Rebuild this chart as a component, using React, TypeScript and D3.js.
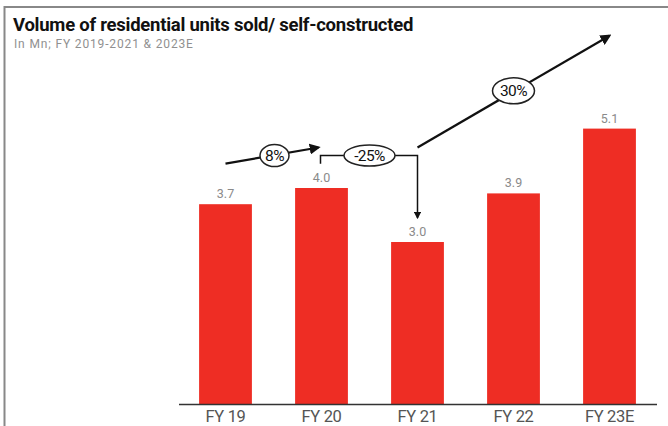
import React from "react";
import * as d3 from "d3";

const categories = ["FY 19", "FY 20", "FY 21", "FY 22", "FY 23E"];
const values = [3.7, 4.0, 3.0, 3.9, 5.1];
const valueLabels = ["3.7", "4.0", "3.0", "3.9", "5.1"];
const growthLabels = ["8%", "-25%", "30%"];

const W = 668;
const H = 426;
const RED = "#ee2d24";

export default function App() {
  const x = d3
    .scaleBand<string>()
    .domain(categories)
    .range([177.5, 657.5])
    .paddingInner(0.45)
    .paddingOuter(0.225);
  const y = d3.scaleLinear().domain([0, 6]).range([404, 80]);
  const bw = x.bandwidth();
  const cx = (c: string) => (x(c) as number) + bw / 2;

  const c0 = cx(categories[0]);
  const c1 = cx(categories[1]);
  const c2 = cx(categories[2]);
  const c3 = cx(categories[3]);
  const c4 = cx(categories[4]);
  const a8y1 = y(4.45);
  const a8y2 = y(4.75);
  const brY = y(4.6);
  const a30y1 = y(4.75);
  const a30y2 = y(6.82);

  const pctStyle = { fontSize: 15.5, fill: "#111", letterSpacing: -0.6 } as const;

  return (
    <svg
      width={W}
      height={H}
      style={{ position: "absolute", left: 0, top: 0, background: "#fff" }}
      fontFamily="Roboto, 'Open Sans', sans-serif"
    >
      <defs>
        <marker
          id="ah"
          viewBox="0 0 10 10"
          refX="8"
          refY="5"
          markerWidth="5"
          markerHeight="5"
          orient="auto"
        >
          <path d="M0,0 L10,5 L0,10 z" fill="#111" />
        </marker>
      </defs>
      <rect x={0} y={0} width={W} height={H} fill="#fff" />
      <line x1={4.5} y1={7} x2={668} y2={7} stroke="#888" strokeWidth={2} />
      <line x1={4.5} y1={6} x2={4.5} y2={426} stroke="#888" strokeWidth={2} />

      <text x={13} y={31} fontSize={18.5} fontWeight={700} fill="#111" letterSpacing={-0.25}>
        Volume of residential units sold/ self-constructed
      </text>
      <text x={14} y={47.5} fontSize={12} fill="#909090" letterSpacing={0.85}>
        In Mn; FY 2019-2021 &amp; 2023E
      </text>

      {categories.map((c, i) => (
        <g key={c}>
          <rect
            x={x(c)}
            y={y(values[i])}
            width={bw}
            height={y(0) - y(values[i])}
            fill={RED}
          />
          <text
            x={cx(c)}
            y={y(values[i]) - 6}
            textAnchor="middle"
            fontSize={12.5}
            fill="#8a8a8a"
          >
            {valueLabels[i]}
          </text>
          <text x={cx(c)} y={422} textAnchor="middle" fontSize={16.5} fill="#555" letterSpacing={-0.3}>
            {c}
          </text>
        </g>
      ))}
      <line x1={179} y1={404.5} x2={657} y2={404.5} stroke="#333" strokeWidth={1.3} />

      {/* 8% arrow */}
      <line
        x1={c0}
        y1={a8y1}
        x2={c1 - 3}
        y2={a8y2}
        stroke="#111"
        strokeWidth={2.2}
        markerEnd="url(#ah)"
      />
      <ellipse cx={(c0 + c1) / 2 + 1} cy={(a8y1 + a8y2) / 2} rx={14.5} ry={11} fill="#fff" stroke="#222" strokeWidth={1.5} />
      <text x={(c0 + c1) / 2 + 1} y={(a8y1 + a8y2) / 2 + 5.5} textAnchor="middle" {...pctStyle}>
        {growthLabels[0]}
      </text>

      {/* -25% bracket */}
      <path
        d={`M${c1 - 1},${y(4.45)} V${brY} H${c2} V${y(3.45)}`}
        fill="none"
        stroke="#111"
        strokeWidth={1.5}
        markerEnd="url(#ah)"
      />
      <ellipse cx={(c1 + c2) / 2} cy={brY} rx={25.5} ry={10.5} fill="#fff" stroke="#222" strokeWidth={1.5} />
      <text x={(c1 + c2) / 2} y={brY + 5.5} textAnchor="middle" {...pctStyle}>
        {growthLabels[1]}
      </text>

      {/* 30% arrow */}
      <line
        x1={c2}
        y1={a30y1}
        x2={c4}
        y2={a30y2}
        stroke="#111"
        strokeWidth={2.2}
        markerEnd="url(#ah)"
      />
      <ellipse cx={c3} cy={y(5.8)} rx={21} ry={13} fill="#fff" stroke="#222" strokeWidth={1.5} />
      <text x={c3} y={y(5.8) + 5.5} textAnchor="middle" {...pctStyle}>
        {growthLabels[2]}
      </text>
    </svg>
  );
}
